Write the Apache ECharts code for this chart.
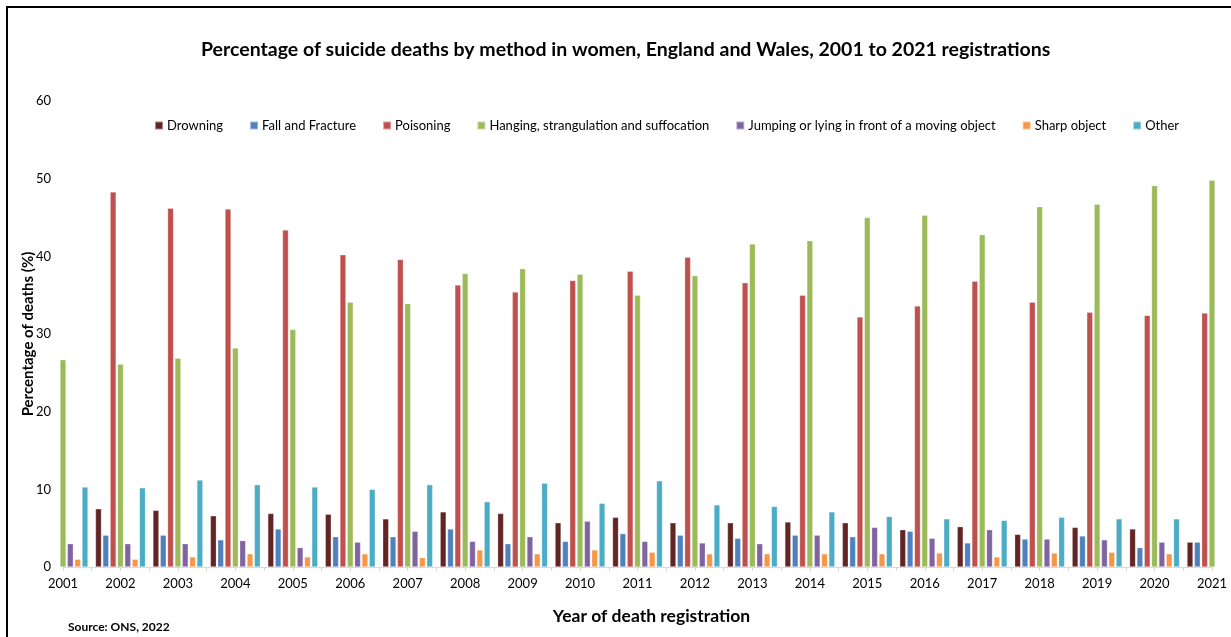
<!DOCTYPE html>
<html>
<head>
<meta charset="utf-8">
<script src="https://cdn.jsdelivr.net/npm/echarts@6/dist/echarts.min.js"></script>
<style>
  html, body { margin: 0; padding: 0; background: #fff; }
  #chart { width: 1231px; height: 637px; }
</style>
</head>
<body>
<div id="chart"></div>
<script>
// Registration years (category axis)
const years = ['2001','2002','2003','2004','2005','2006','2007','2008','2009','2010','2011',
               '2012','2013','2014','2015','2016','2017','2018','2019','2020','2021'];

// Share of suicide deaths among women by method (%), per registration year.
// null = not shown (falls outside the plotted range at the axis ends).
const drowning = [null, 7.5, 7.3, 6.6, 6.9, 6.8, 6.2, 7.1, 6.9, 5.7, 6.4,
                  5.7, 5.7, 5.8, 5.7, 4.8, 5.2, 4.2, 5.1, 4.9, 3.2];
const fallFracture = [null, 4.1, 4.1, 3.5, 4.9, 3.9, 3.9, 4.9, 3.0, 3.3, 4.3,
                      4.1, 3.7, 4.1, 3.9, 4.6, 3.1, 3.6, 4.0, 2.5, 3.2];
const poisoning = [null, 48.3, 46.2, 46.1, 43.4, 40.2, 39.6, 36.3, 35.4, 36.9, 38.1,
                   39.9, 36.6, 35.0, 32.2, 33.6, 36.8, 34.1, 32.8, 32.4, 32.7];
const hanging = [26.7, 26.1, 26.9, 28.2, 30.6, 34.1, 33.9, 37.8, 38.4, 37.7, 35.0,
                 37.5, 41.6, 42.0, 45.0, 45.3, 42.8, 46.4, 46.7, 49.1, 49.8];
const jumping = [3.0, 3.0, 3.0, 3.4, 2.5, 3.2, 4.6, 3.3, 3.9, 5.9, 3.3,
                 3.1, 3.0, 4.1, 5.1, 3.7, 4.8, 3.6, 3.5, 3.2, null];
const sharpObject = [1.0, 1.0, 1.3, 1.7, 1.3, 1.7, 1.2, 2.2, 1.7, 2.2, 1.9,
                     1.7, 1.7, 1.7, 1.7, 1.8, 1.3, 1.8, 1.9, 1.7, null];
const other = [10.3, 10.2, 11.2, 10.6, 10.3, 10.0, 10.6, 8.4, 10.8, 8.2, 11.1,
               8.0, 7.8, 7.1, 6.5, 6.2, 6.0, 6.4, 6.2, 6.2, null];

const methodNames = ['Drowning', 'Fall and Fracture', 'Poisoning',
                     'Hanging, strangulation and suffocation',
                     'Jumping or lying in front of a moving object',
                     'Sharp object', 'Other'];
const methodValues = [drowning, fallFracture, poisoning, hanging, jumping, sharpObject, other];
const methodColors = ['#632523', '#4F81BD', '#C0504D', '#9BBB59', '#8064A2', '#F79646', '#4BACC6'];

// Half-step tick marks between the year labels
const halfSteps = [];
for (let i = 0; i < years.length * 2 - 1; i++) halfSteps.push(String(i));

const FONT = 'Lato, "Open Sans", sans-serif';

const chart = echarts.init(document.getElementById('chart'), null, { renderer: 'canvas' });

chart.setOption({
  animation: false,
  backgroundColor: '#ffffff',
  textStyle: { fontFamily: FONT },
  title: {
    text: 'Percentage of suicide deaths by method in women, England and Wales, 2001 to 2021 registrations',
    left: 196,
    top: 35,
    textStyle: { fontFamily: FONT, fontSize: 19.5, fontWeight: 'bold', color: '#000' }
  },
  legend: {
    top: 114,
    left: 149,
    itemWidth: 8,
    itemHeight: 8,
    itemGap: 26,
    icon: 'rect',
    textStyle: { fontFamily: FONT, fontSize: 13, color: '#000', padding: [0, 0, 0, -1] },
    data: methodNames
  },
  grid: { left: 63, right: 19, top: 101, bottom: 70, containLabel: false },
  xAxis: [
    {
      type: 'category',
      data: years,
      boundaryGap: false,
      name: 'Year of death registration',
      nameLocation: 'middle',
      nameGap: 40,
      nameTextStyle: { fontFamily: FONT, fontSize: 17.5, fontWeight: 'bold', color: '#000', padding: [0, 0, 0, 28] },
      axisLine: { lineStyle: { color: '#D9D9D9', width: 1 } },
      axisTick: { show: false },
      axisLabel: { fontFamily: FONT, fontSize: 13, color: '#000', margin: 10 }
    },
    {
      type: 'category',
      data: halfSteps,
      boundaryGap: false,
      position: 'bottom',
      axisLine: { show: false },
      axisTick: { show: true, inside: false, length: 4, lineStyle: { color: '#D9D9D9' } },
      axisLabel: { show: false }
    }
  ],
  yAxis: {
    type: 'value',
    min: 0,
    max: 60,
    interval: 10,
    name: 'Percentage of deaths (%)',
    nameLocation: 'middle',
    nameGap: 27,
    nameRotate: 90,
    nameMoveOverlap: false,
    nameTextStyle: { fontFamily: FONT, fontSize: 15, fontWeight: 'bold', color: '#000' },
    axisLine: { show: false },
    axisTick: { show: false },
    splitLine: { show: false },
    axisLabel: { fontFamily: FONT, fontSize: 13, color: '#000', margin: 12 }
  },
  series: methodNames.map((name, i) => ({
    name: name,
    type: 'bar',
    xAxisIndex: 0,
    data: methodValues[i],
    clip: true,
    barGap: '22%',
    barCategoryGap: '13%',
    itemStyle: { color: methodColors[i], borderColor: 'rgba(255,255,255,0.45)', borderWidth: 0.6 }
  })),
  graphic: [
    {
      type: 'polyline',
      shape: { points: [[7, 637], [7, 7], [1231, 7]] },
      style: { stroke: '#000', lineWidth: 2, fill: null },
      silent: true
    },
    {
      type: 'text',
      left: 68,
      top: 621,
      style: { text: 'Source: ONS, 2022', font: 'bold 12px ' + FONT, fill: '#000' }
    }
  ]
});
</script>
</body>
</html>
